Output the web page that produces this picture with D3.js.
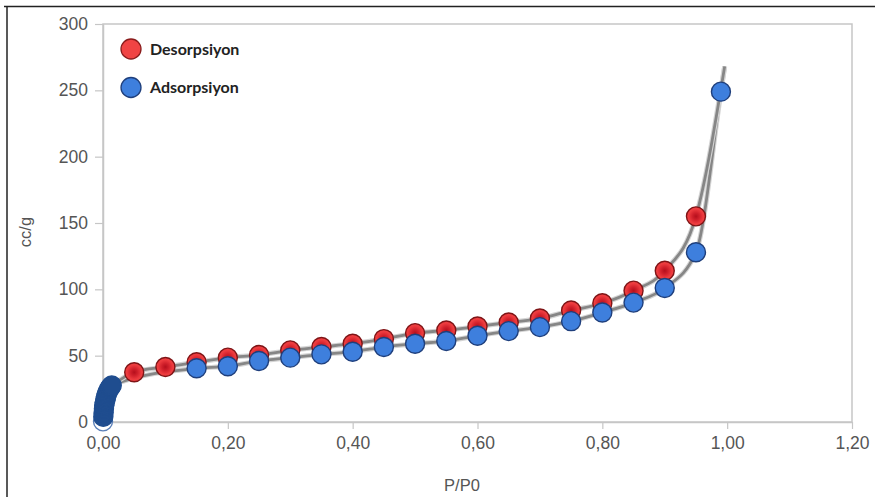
<!DOCTYPE html>
<html>
<head>
<meta charset="utf-8">
<script src="https://cdn.jsdelivr.net/npm/d3@7"></script>
<style>
    body { margin: 0; background: #fff; }
    svg { display: block; font-family: "Liberation Sans", Arial, sans-serif; }
</style>
</head>
<body>
<script>
"use strict"

/* desorpsiyon noktalari (kirmizi) */
const desorpsiyonX = [0.05, 0.10, 0.15, 0.20, 0.25, 0.30, 0.35, 0.40, 0.45, 0.50,
    0.55, 0.60, 0.65, 0.70, 0.75, 0.80, 0.85, 0.90, 0.95];
const desorpsiyonY = [37.5, 41.5, 45, 48.5, 50.5, 54, 56.5, 59, 62.5, 67,
    69, 72, 75, 78, 84, 89.5, 99, 114, 155];

/* adsorpsiyon noktalari (mavi) */
const adsorpsiyonX = [0.15, 0.20, 0.25, 0.30, 0.35, 0.40, 0.45, 0.50, 0.55, 0.60,
    0.65, 0.70, 0.75, 0.80, 0.85, 0.90, 0.95, 0.99];
const adsorpsiyonY = [40.5, 42, 46, 48.5, 51, 53, 56.5, 59, 61, 65,
    68.5, 71.5, 76, 82.5, 90, 101, 128, 249];

/* dusuk basinc bolgesindeki yogun noktalar */
const dusukX = [0.000, 0.0005, 0.001, 0.0015, 0.002, 0.003, 0.004, 0.005, 0.006, 0.008, 0.010, 0.012, 0.014];
const dusukY = [0.5, 4, 7, 10, 12.5, 15, 17, 19, 21, 23, 25, 26.5, 27.5];

/* egrilerin ust ucu */
const ucX = [0.996];
const ucY = [268];

const xTicks = [0, 0.2, 0.4, 0.6, 0.8, 1.0, 1.2];
const yTicks = [0, 50, 100, 150, 200, 250, 300];

const seriAdlari = ["Desorpsiyon", "Adsorpsiyon"];

const grafik = { genislik: 875, yukseklik: 497 };
const kenar = { sol: 103, ust: 24, sag: 852, alt: 422 };

const svg = d3.select("body")
    .append("svg")
    .attr("width", grafik.genislik)
    .attr("height", grafik.yukseklik);

const x = d3.scaleLinear().domain([0, 1.2]).range([kenar.sol, kenar.sag]);
const y = d3.scaleLinear().domain([0, 300]).range([kenar.alt, kenar.ust]);

const yerel = d3.formatLocale({ decimal: ",", thousands: ".", grouping: [3], currency: ["", ""] });
const fmtX = yerel.format(".2f");

/* kirmizi isaretler icin radyal gecis */
const defs = svg.append("defs");
const gecis = defs.append("radialGradient").attr("id", "kirmizi");
gecis.append("stop").attr("offset", "0%").attr("stop-color", "#b50f1c");
gecis.append("stop").attr("offset", "35%").attr("stop-color", "#cf1f2a");
gecis.append("stop").attr("offset", "75%").attr("stop-color", "#ec3a3e");
gecis.append("stop").attr("offset", "100%").attr("stop-color", "#ef4242");

/* dis cerceve (ust ve sol) */
svg.append("line").attr("x1", 4).attr("x2", 875).attr("y1", 6.5).attr("y2", 6.5)
    .attr("stroke", "#222").attr("stroke-width", 1.5);
svg.append("line").attr("x1", 7).attr("x2", 7).attr("y1", 6).attr("y2", 497)
    .attr("stroke", "#222").attr("stroke-width", 1.5);

/* cizim alani cercevesi */
svg.append("rect")
    .attr("x", kenar.sol).attr("y", kenar.ust)
    .attr("width", kenar.sag - kenar.sol).attr("height", kenar.alt - kenar.ust)
    .attr("fill", "none").attr("stroke", "#c6c6c6").attr("stroke-width", 1.5);

/* eksenler */
const xEkseni = svg.append("g")
    .attr("transform", "translate(0," + kenar.alt + ")")
    .call(d3.axisBottom(x).tickValues(xTicks).tickFormat(fmtX).tickSize(7).tickSizeOuter(0).tickPadding(8));
const yEkseni = svg.append("g")
    .attr("transform", "translate(" + kenar.sol + ",0)")
    .call(d3.axisLeft(y).tickValues(yTicks).tickFormat(d3.format("d")).tickSize(8).tickSizeOuter(0).tickPadding(7));

[xEkseni, yEkseni].forEach(function (g) {
    g.select(".domain").attr("stroke", "#c6c6c6").attr("stroke-width", 1.5);
    g.selectAll(".tick line").attr("stroke", "#c6c6c6").attr("stroke-width", 1.2);
    g.selectAll(".tick text").attr("fill", "#555").attr("font-size", 17.5)
        .attr("font-family", "'Liberation Sans', Arial, sans-serif");
});

/* eksen basliklari */
svg.append("text")
    .attr("x", 462).attr("y", 491)
    .attr("text-anchor", "middle")
    .attr("fill", "#555").attr("font-size", 16.5)
    .text("P/P0");
svg.append("text")
    .attr("transform", "translate(31,232) rotate(-90)")
    .attr("text-anchor", "middle")
    .attr("fill", "#555").attr("font-size", 16.5)
    .text("cc/g");

/* veri noktalari */
const desNoktalar = desorpsiyonX.map(function (d, i) { return { x: d, y: desorpsiyonY[i] } });
const adsNoktalar = adsorpsiyonX.map(function (d, i) { return { x: d, y: adsorpsiyonY[i] } });
const dusukNoktalar = dusukX.map(function (d, i) { return { x: d, y: dusukY[i] } });
const ucNokta = ucX.map(function (d, i) { return { x: d, y: ucY[i] } });

/* egriler */
const egri = d3.line()
    .x(function (d) { return x(d.x) })
    .y(function (d) { return y(d.y) })
    .curve(d3.curveMonotoneX);

const adsEgri = dusukNoktalar.concat(adsNoktalar, ucNokta);
const desEgri = [dusukNoktalar[dusukNoktalar.length - 1]].concat(desNoktalar, ucNokta);

[adsEgri, desEgri].forEach(function (veri) {
    svg.append("path")
        .datum(veri)
        .attr("d", egri)
        .attr("fill", "none")
        .attr("stroke", "#d4d4d4")
        .attr("stroke-width", 5);
    svg.append("path")
        .datum(veri)
        .attr("d", egri)
        .attr("fill", "none")
        .attr("stroke", "#868686")
        .attr("stroke-width", 2.8);
});

/* isaretler */
svg.append("g").selectAll("circle")
    .data(desNoktalar)
    .enter()
    .append("circle")
    .attr("cx", function (d) { return x(d.x) })
    .attr("cy", function (d) { return y(d.y) })
    .attr("r", 9.5)
    .attr("fill", "url(#kirmizi)")
    .attr("stroke", "#7e1416")
    .attr("stroke-width", 1.4);

svg.append("g").selectAll("circle")
    .data(adsNoktalar)
    .enter()
    .append("circle")
    .attr("cx", function (d) { return x(d.x) })
    .attr("cy", function (d) { return y(d.y) })
    .attr("r", 9.5)
    .attr("fill", "#3e7fdd")
    .attr("stroke", "#1f3f7c")
    .attr("stroke-width", 1.4);

svg.append("g").selectAll("circle")
    .data(dusukNoktalar)
    .enter()
    .append("circle")
    .attr("cx", function (d) { return x(d.x) })
    .attr("cy", function (d) { return y(d.y) })
    .attr("r", 9.5)
    .attr("fill", function (d, i) { return i == 0 ? "#ffffff" : "#1f4d8f" })
    .attr("stroke", function (d, i) { return i == 0 ? "#5a7fb8" : "#1f4d8f" })
    .attr("stroke-width", 1.4);

/* lejant */
const lejantRenk = [
    { dolgu: "#f04444", cizgi: "#8a1c1c" },
    { dolgu: "#3e7fdd", cizgi: "#1f3f7c" }
];
const lejant = svg.append("g").selectAll("g")
    .data(seriAdlari)
    .enter()
    .append("g")
    .attr("transform", function (d, i) { return "translate(131," + (49 + i * 38.5) + ")" });
lejant.append("circle")
    .attr("r", 10)
    .attr("fill", function (d, i) { return lejantRenk[i].dolgu })
    .attr("stroke", function (d, i) { return lejantRenk[i].cizgi })
    .attr("stroke-width", 1.3);
lejant.append("text")
    .attr("x", 19).attr("y", 5.5)
    .attr("font-family", "Lato, 'Liberation Sans', sans-serif")
    .attr("font-weight", "bold")
    .attr("font-size", 16)
    .attr("fill", "#222")
    .text(function (d) { return d });
</script>
</body>
</html>
